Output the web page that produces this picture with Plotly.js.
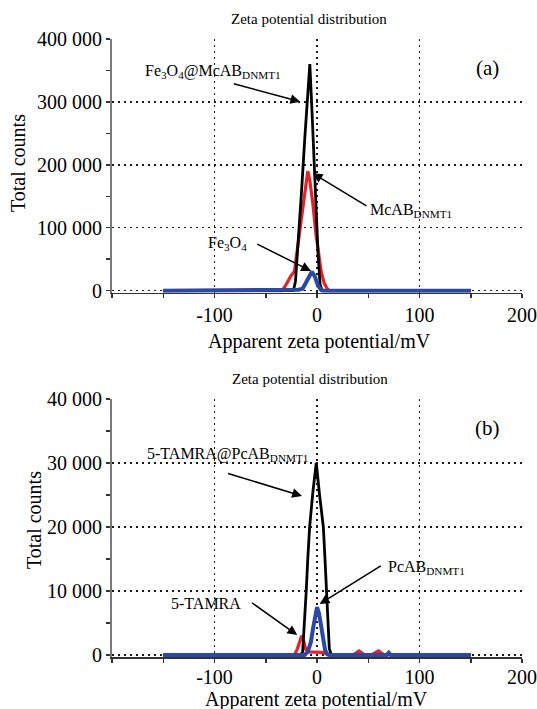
<!DOCTYPE html>
<html><head><meta charset="utf-8">
<script src="https://cdn.plot.ly/plotly-3.0.1.min.js"></script>
<style>html,body{margin:0;padding:0;background:#fff}#chart{width:537px;height:709px}</style>
</head><body><div id="chart"></div>
<script>
// ---------- Panel (a) data : zeta potential (mV) vs total counts ----------
const aMcAB_x      = [-150, -34, -30, -26, -22, -18, -14, -11, -9, -7, -4, -1, 2, 4, 7, 10, 12, 150];
const aMcAB_y      = [0, 0, 10000, 22000, 31000, 80000, 135000, 175000, 190000, 175000, 138000, 90000, 50000, 31000, 12000, 3000, 0, 0];
const aFeMcAB_x    = [-150, -23, -21, -18, -15, -12, -9, -7, -5, -3, -1, 1, 3, 5, 150];
const aFeMcAB_y    = [0, 0, 15000, 80000, 160000, 240000, 320000, 360000, 290000, 210000, 130000, 60000, 10000, 0, 0];
const aFe3O4_x     = [-150, -22, -18, -14, -11, -8, -5, -2, 1, 4, 6, 150];
const aFe3O4_y     = [0, 0, 1500, 3000, 12000, 24000, 30000, 22000, 8000, 1000, 0, 0];

// ---------- Panel (b) data ----------
const bTAMRA_x     = [-150, -22, -19, -17, -15, -13, -11, -8, -4, 0, 4, 8, 11, 13, 35, 38, 41, 44, 47, 53, 57, 60, 63, 66, 150];
const bTAMRA_y     = [0, 0, 1000, 2200, 3000, 2200, 900, 500, 500, 400, 400, 300, 100, 0, 0, 300, 650, 300, 0, 0, 300, 650, 300, 0, 0];
const bTAMRAPc_x   = [-150, -16, -14, -12.5, -10.5, -9, -7.2, -4, -0.7, 2.5, 4.5, 6.2, 7.8, 9.1, 10.5, 12, 14, 68, 70, 72, 150];
const bTAMRAPc_y   = [0, 0, 500, 4000, 10000, 15000, 20000, 25500, 30000, 25000, 22500, 20000, 15000, 10000, 5000, 1000, 0, 0, 250, 0, 0];
const bPcAB_x      = [-150, -12, -9, -6, -4, -2, 0, 2, 4, 6, 8, 10, 12, 68, 70, 72, 150];
const bPcAB_y      = [0, 0, 500, 2000, 4000, 6200, 7500, 6500, 4500, 2200, 700, 100, 0, 0, 350, 0, 0];

// ---------- ticks ----------
const xMajorVals = [-200, -100, 0, 100, 200];
const xMajorText = ['', '-100', '0', '100', '200'];
const xMinorVals = [-150, -50, 50, 150];
const xAllVals   = [-200, -150, -100, -50, 0, 50, 100, 150, 200];
const aYVals = [0, 100000, 200000, 300000, 400000];
const aYText = ['0', '100 000', '200 000', '300 000', '400 000'];
const aYMinor = [50000, 150000, 250000, 350000];
const bYVals = [0, 10000, 20000, 30000, 40000];
const bYText = ['0', '10 000', '20 000', '30 000', '40 000'];
const bYMinor = [5000, 15000, 25000, 35000];

const FONT = '"Liberation Serif", "Times New Roman", serif';
const RED = '#e8222b', BLACK = '#000000', BLUE = '#2a48a6';
const AX = '#333333';

function tr(x, y, color, width, xa, ya, name) {
  return {x: x, y: y, type: 'scatter', mode: 'lines', name: name,
          line: {color: color, width: width}, xaxis: xa, yaxis: ya, hoverinfo: 'skip'};
}
const data = [
  tr(aMcAB_x, aMcAB_y, RED, 3.2, 'x', 'y', 'McAB'),
  tr(aFeMcAB_x, aFeMcAB_y, BLACK, 2.8, 'x', 'y', 'Fe3O4@McAB'),
  tr(aFe3O4_x, aFe3O4_y, BLUE, 4, 'x', 'y', 'Fe3O4'),
  tr(bTAMRA_x, bTAMRA_y, RED, 3.2, 'x2', 'y2', '5-TAMRA'),
  tr(bTAMRAPc_x, bTAMRAPc_y, BLACK, 2.8, 'x2', 'y2', '5-TAMRA@PcAB'),
  tr(bPcAB_x, bPcAB_y, BLUE, 4, 'x2', 'y2', 'PcAB')
];

const gridStyle = {showgrid: true, gridcolor: '#1a1a1a', griddash: '2px,4px', gridwidth: 1.5};
function mainX(anchor, standoff) {
  return Object.assign({
    domain: [0, 1], anchor: anchor, range: [-200, 200],
    tickmode: 'array', tickvals: xMajorVals, ticktext: xMajorText,
    ticks: 'outside', ticklen: 4, tickwidth: 1.5, tickcolor: AX,
    ticklabelstandoff: standoff,
    showline: true, linecolor: AX, linewidth: 1.5, zeroline: false,
    minor: {tickmode: 'array', tickvals: xMinorVals, ticks: 'outside', ticklen: 4, tickwidth: 1.5, tickcolor: AX, showgrid: false},
    tickfont: {family: FONT, size: 20, color: '#000'}, fixedrange: true
  }, gridStyle);
}
function overX(over, anchor) {
  return {overlaying: over, anchor: anchor, range: [-200, 200], tickmode: 'array', tickvals: xAllVals,
          ticks: 'inside', ticklen: 4, tickwidth: 1.5, tickcolor: AX, showticklabels: false,
          showgrid: false, zeroline: false, showline: false, fixedrange: true};
}
function mainY(anchor, dom, rng, vals, text, minor) {
  return Object.assign({
    domain: dom, anchor: anchor, range: rng,
    tickmode: 'array', tickvals: vals, ticktext: text,
    ticks: 'outside', ticklen: 4, tickwidth: 1.5, tickcolor: AX,
    showline: true, linecolor: '#7a7a7a', linewidth: 2, zeroline: false,
    minor: {tickmode: 'array', tickvals: minor, ticks: 'outside', ticklen: 4, tickwidth: 1.5, tickcolor: AX, showgrid: false},
    tickfont: {family: FONT, size: 20, color: '#000'}, fixedrange: true
  }, gridStyle);
}
function overY(over, anchor, rng, vals) {
  return {overlaying: over, anchor: anchor, range: rng, side: 'left', tickmode: 'array', tickvals: vals,
          ticks: 'inside', ticklen: 4, tickwidth: 1.5, tickcolor: AX, showticklabels: false,
          showgrid: false, zeroline: false, showline: false, fixedrange: true};
}
const aRange = [-3180, 400000];
const bRange = [-312, 40000];

function txt(x, y, xref, yref, text, size) {
  return {x: x, y: y, xref: xref, yref: yref, text: text, showarrow: false,
          xanchor: 'center', yanchor: 'middle', font: {family: FONT, size: size || 16, color: '#000'}};
}
function arrow(x, y, ax, ay, xref, yref) {
  return {x: x, y: y, ax: ax, ay: ay, xref: xref, yref: yref, axref: xref, ayref: yref,
          text: '', showarrow: true, arrowhead: 2, arrowsize: 1.3, arrowwidth: 1.5,
          arrowcolor: '#000', standoff: 0, startstandoff: 0};
}

const annotations = [
  // titles and axis titles
  txt(0.4804, 1.0324, 'paper', 'paper', 'Zeta potential distribution', 15),
  txt(0.484, 0.4506, 'paper', 'paper', 'Zeta potential distribution', 15),
  txt(0.506, 0.5113, 'paper', 'paper', 'Apparent zeta potential/mV', 20),
  txt(0.499, -0.0695, 'paper', 'paper', 'Apparent zeta potential/mV', 20),
  Object.assign(txt(-0.229, 0.7994, 'paper', 'paper', 'Total counts', 20), {textangle: -90}),
  Object.assign(txt(-0.19, 0.2217, 'paper', 'paper', 'Total counts', 20), {textangle: -90}),
  // panel (a)
  txt(-101.5, 349000, 'x', 'y', 'Fe<sub>3</sub>O<sub>4</sub>@McAB<sub>DNMT1</sub>'),
  arrow(-16.4, 300300, -82.6, 329600, 'x', 'y'),
  txt(92, 127800, 'x', 'y', 'McAB<sub>DNMT1</sub>'),
  arrow(-4.2, 186500, 49.7, 133400, 'x', 'y'),
  txt(-87, 75700, 'x', 'y', 'Fe<sub>3</sub>O<sub>4</sub>'),
  arrow(-5.9, 31200, -59.8, 75200, 'x', 'y'),
  txt(166, 353900, 'x', 'y', '(a)', 21),
  // panel (b)
  txt(-87.3, 31400, 'x2', 'y2', '5-TAMRA@PcAB<sub>DNMT1</sub>'),
  arrow(-14.7, 24840, -88.2, 28440, 'x2', 'y2'),
  txt(107, 13700, 'x2', 'y2', 'PcAB<sub>DNMT1</sub>'),
  arrow(2.6, 7970, 63.7, 14060, 'x2', 'y2'),
  txt(-108, 7970, 'x2', 'y2', '5-TAMRA'),
  arrow(-19.3, 3125, -65, 8330, 'x2', 'y2'),
  txt(166.2, 35420, 'x2', 'y2', '(b)', 21)
];

const layout = {
  width: 537, height: 709,
  margin: {l: 112, r: 15, t: 39, b: 52},
  paper_bgcolor: '#ffffff', plot_bgcolor: '#ffffff',
  showlegend: false,
  font: {family: FONT, color: '#000'},
  xaxis: mainX('y', 0),
  yaxis: mainY('x', [0.5896, 1], aRange, aYVals, aYText, aYMinor),
  xaxis2: mainX('y2', -3),
  yaxis2: mainY('x2', [0, 0.4175], bRange, bYVals, bYText, bYMinor),
  xaxis3: overX('x', 'y'),
  yaxis3: overY('y', 'x', aRange, aYVals.concat(aYMinor)),
  xaxis4: overX('x2', 'y2'),
  yaxis4: overY('y2', 'x2', bRange, bYVals.concat(bYMinor)),
  annotations: annotations
};

Plotly.newPlot('chart', data, layout, {displayModeBar: false, staticPlot: true});
</script>
</body></html>
